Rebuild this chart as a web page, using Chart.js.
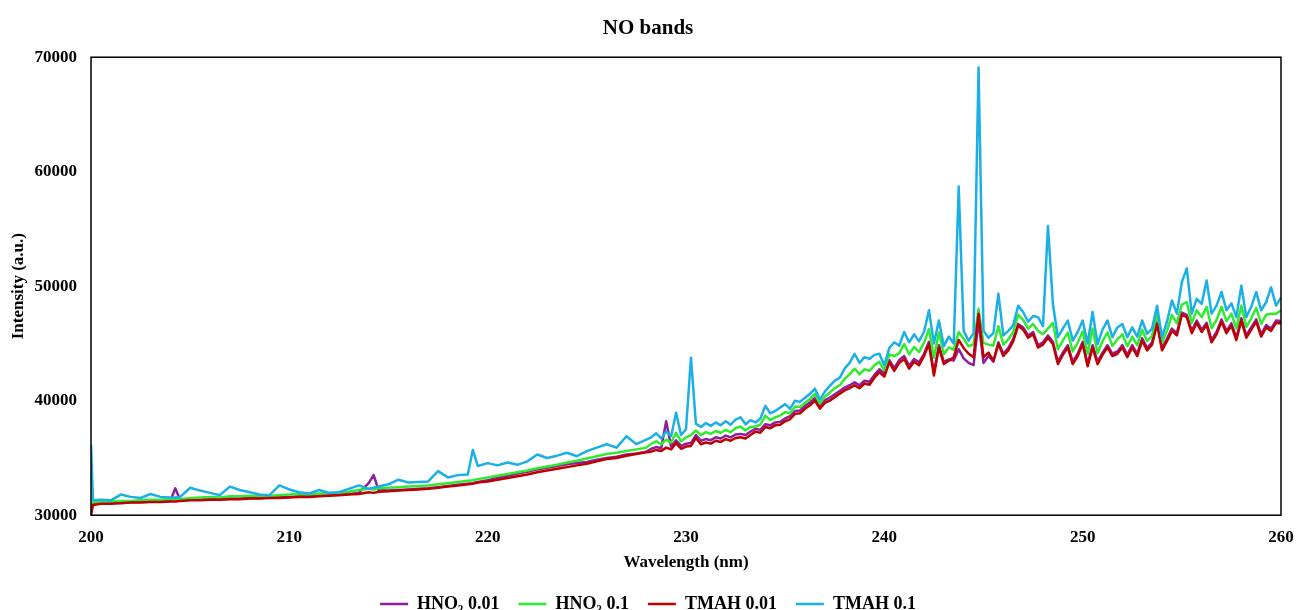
<!DOCTYPE html>
<html>
<head>
<meta charset="utf-8">
<script src="https://cdn.jsdelivr.net/npm/chart.js@4.4.1/dist/chart.umd.min.js"></script>
<style>
  html, body { margin: 0; padding: 0; background: #ffffff; }
  #wrap { width: 1296px; height: 610px; }
</style>
</head>
<body>
<div id="wrap"><canvas id="c" width="1296" height="610"></canvas></div>
<script>
// ---- DATA ----
const chartTitle = 'NO bands';
const xTitle = 'Wavelength (nm)';
const yTitle = 'Intensity (a.u.)';
const seriesNames = ['HNO\u2083 0.01', 'HNO\u2083 0.1', 'TMAH 0.01', 'TMAH 0.1'];
const xTicks = [200, 210, 220, 230, 240, 250, 260];
const yTicks = [30000, 40000, 50000, 60000, 70000];

const wavelength = [
  200, 200.1, 200.5, 201, 201.5, 202, 202.5, 203, 203.5, 204, 204.25, 204.5,
  205, 205.5, 206, 206.5, 207, 207.5, 208, 208.5, 209, 209.5,
  210, 210.5, 211, 211.5, 212, 212.5, 213, 213.5, 214, 214.25, 214.5,
  215, 215.5, 216, 216.5, 217, 217.5, 218, 218.5, 219, 219.25, 219.5,
  220, 220.5, 221, 221.5, 222, 222.5, 223, 223.5, 224, 224.5,
  225, 225.5, 226, 226.5, 227, 227.5, 228,
  228.25, 228.5, 228.75, 229, 229.25, 229.5, 229.75, 230,
  230.25, 230.5, 230.75, 231, 231.25, 231.5, 231.75, 232,
  232.25, 232.5, 232.75, 233, 233.25, 233.5, 233.75, 234,
  234.25, 234.5, 234.75, 235, 235.25, 235.5, 235.75, 236,
  236.25, 236.5, 236.75, 237, 237.25, 237.5, 237.75, 238,
  238.25, 238.5, 238.75, 239, 239.25, 239.5, 239.75, 240,
  240.25, 240.5, 240.75, 241, 241.25, 241.5, 241.75, 242,
  242.25, 242.5, 242.75, 243, 243.25, 243.5, 243.75, 244,
  244.25, 244.5, 244.75, 245, 245.25, 245.5, 245.75, 246,
  246.25, 246.5, 246.75, 247, 247.25, 247.5, 247.75, 248,
  248.25, 248.5, 248.75, 249, 249.25, 249.5, 249.75, 250,
  250.25, 250.5, 250.75, 251, 251.25, 251.5, 251.75, 252,
  252.25, 252.5, 252.75, 253, 253.25, 253.5, 253.75, 254,
  254.25, 254.5, 254.75, 255, 255.25, 255.5, 255.75, 256,
  256.25, 256.5, 256.75, 257, 257.25, 257.5, 257.75, 258,
  258.25, 258.5, 258.75, 259, 259.25, 259.5, 259.75, 260
];

// HNO3 0.01 (purple)
const hno3_001 = [
  30500, 31000, 31050, 31100, 31100, 31150, 31150, 31200, 31200, 31250, 32350, 31300,
  31350, 31350, 31400, 31400, 31450, 31450, 31500, 31500, 31550, 31600,
  31600, 31650, 31650, 31700, 31750, 31800, 31850, 31950, 32800, 33500, 32200,
  32150, 32200, 32250, 32300, 32350, 32450, 32550, 32650, 32750, 32800, 32900,
  33050, 33250, 33450, 33650, 33800, 34000, 34150, 34300, 34450, 34550,
  34650, 34850, 35000, 35100, 35300, 35400, 35550,
  35800, 35950, 35850, 38200, 36000, 36550, 36050, 36250,
  36300, 37000, 36500, 36650, 36550, 36800, 36700, 36950,
  36800, 37050, 37100, 37000, 37300, 37550, 37450, 37950,
  37850, 38100, 38150, 38450, 38650, 39100, 39150, 39550,
  39850, 40250, 39550, 40050, 40250, 40550, 40850, 41150,
  41350, 41600, 41350, 41750, 41650, 42250, 42750, 42350,
  43550, 42850, 43550, 43900, 43050, 43650, 43350, 44100,
  45150, 42450, 44850, 43400, 43600, 43500, 44500, 43700,
  43300, 43100, 47000, 43300, 43900, 43400, 45100, 44100,
  44600, 45400, 46700, 46400, 45700, 46000, 44850, 45100,
  45700, 45150, 43400, 44200, 44850, 43400, 44100, 45150,
  43200, 44850, 43400, 44200, 44850, 44100, 44300, 44850,
  44000, 44850, 44100, 45450, 44600, 45100, 46900, 44600,
  45400, 46300, 45900, 47700, 47500, 46100, 47000, 46200,
  46800, 45300, 46000, 47100, 46100, 46750, 45500, 47200,
  45700, 46400, 47100, 45800, 46600, 46300, 47000, 46950
];

// HNO3 0.1 (green)
const hno3_01 = [
  30700, 31100, 31150, 31200, 31250, 31250, 31300, 31350, 31350, 31400, 31400, 31400,
  31500, 31550, 31600, 31550, 31650, 31650, 31700, 31650, 31700, 31750,
  31800, 31850, 31800, 31900, 31900, 31950, 32050, 32200, 32300, 32250, 32350,
  32400, 32450, 32500, 32550, 32600, 32700, 32800, 32900, 33000, 33050, 33150,
  33300, 33450, 33600, 33750, 33900, 34100, 34250, 34400, 34600, 34750,
  34950, 35150, 35350, 35450, 35600, 35750, 35900,
  36250, 36450, 36200, 36600, 36350, 37200, 36450, 36800,
  37000, 37400, 37000, 37250, 37100, 37350, 37200, 37450,
  37250, 37600, 37750, 37400, 37700, 37750, 37900, 38700,
  38300, 38550, 38700, 39000, 38900, 39500, 39450, 39800,
  40150, 40600, 39750, 40350, 40700, 41100, 41350, 41900,
  42300, 42800, 42300, 42750, 42600, 43100, 43400, 42650,
  44050, 43900, 44150, 44950, 44050, 44700, 44250, 45050,
  46250, 43750, 45950, 44050, 44650, 44450, 46000, 45400,
  44750, 44950, 48000, 45050, 44900, 44800, 46500, 44900,
  45350, 46000, 47500, 47050, 46300, 46700, 46100, 45800,
  46300, 46800, 44500, 45250, 45950, 44300, 45050, 46050,
  44100, 46300, 44150, 45200, 45950, 44800, 45350, 45800,
  44750, 45600, 44850, 46200, 45200, 45650, 47550, 45050,
  46100, 47500, 46750, 48400, 48600, 46800, 47900, 47300,
  48200, 46350, 47050, 48200, 46950, 47600, 46300, 48300,
  46450, 47200, 48100, 46700, 47500, 47600, 47600, 47900
];

// TMAH 0.01 (dark red)
const tmah_001 = [
  30000, 30900, 31000, 31000, 31050, 31100, 31100, 31150, 31150, 31200, 31200, 31250,
  31300, 31300, 31350, 31350, 31400, 31400, 31450, 31450, 31500, 31500,
  31550, 31600, 31600, 31650, 31700, 31750, 31800, 31850, 32000, 31950, 32050,
  32100, 32150, 32200, 32250, 32300, 32400, 32500, 32600, 32700, 32750, 32850,
  32950, 33100, 33250, 33400, 33550, 33750, 33900, 34050, 34200, 34350,
  34500, 34700, 34900, 35000, 35200, 35350, 35500,
  35550, 35700, 35600, 35900, 35750, 36300, 35800, 36000,
  36050, 36750, 36200, 36350, 36250, 36500, 36400, 36650,
  36500, 36750, 36800, 36700, 37000, 37300, 37200, 37700,
  37600, 37850, 37900, 38200, 38400, 38850, 38900, 39300,
  39600, 40000, 39300, 39800, 40000, 40300, 40600, 40900,
  41100, 41350, 41100, 41500, 41400, 42000, 42500, 42100,
  43350, 42600, 43300, 43650, 42800, 43400, 43100, 43900,
  44950, 42200, 44650, 43200, 43500, 43800, 45300, 44600,
  44100, 43800, 47600, 43800, 44200, 43500, 44950, 43900,
  44400, 45200, 46550, 46200, 45500, 45800, 44650, 44900,
  45500, 44950, 43200, 44000, 44650, 43200, 43900, 44950,
  43000, 44650, 43200, 44000, 44650, 43900, 44100, 44650,
  43800, 44650, 43900, 45250, 44400, 44900, 46700, 44400,
  45200, 46100, 45700, 47500, 47300, 45900, 46800, 46000,
  46600, 45100, 45800, 46900, 45900, 46550, 45300, 47000,
  45500, 46200, 46900, 45600, 46400, 46100, 46800, 46750
];

// TMAH 0.1 (light blue)
const tmah_01 = [
  36200, 31300, 31350, 31300, 31800, 31600, 31500, 31850, 31600, 31550, 31550, 31600,
  32400, 32150, 31950, 31750, 32500, 32200, 32000, 31800, 31750, 32600,
  32250, 32000, 31900, 32200, 31950, 32000, 32300, 32600, 32300, 32400, 32500,
  32700, 33100, 32850, 32900, 32950, 33850, 33300, 33500, 33550, 35700, 34300,
  34550, 34350, 34600, 34400, 34700, 35300, 35000, 35200, 35450, 35150,
  35600, 35900, 36200, 35900, 36900, 36200, 36600,
  36800, 37150, 36700, 37300, 36900, 38950, 37000, 37500,
  43750, 38000, 37700, 38050, 37800, 38100, 37850, 38200,
  37900, 38350, 38550, 37950, 38300, 38100, 38450, 39550,
  38900, 39100, 39400, 39700, 39300, 40000, 39900, 40250,
  40600, 41050, 40100, 40800, 41300, 41750, 42000, 42800,
  43300, 44100, 43300, 43800, 43650, 44000, 44100, 43100,
  44600, 45100, 44800, 46000, 45100, 45800, 45200, 46000,
  47900, 45000, 47000, 44750, 45600, 45000, 58700, 46100,
  45250, 45900, 69100, 46100, 45500, 45900, 49350, 45700,
  46100, 46600, 48300, 47750, 46900, 47400, 47300, 46500,
  55250, 48450, 45550, 46300, 47000, 45250, 46000, 47000,
  45000, 47750, 44950, 46200, 47000, 45550, 46400, 46700,
  45550, 46400, 45600, 47000, 45850, 46300, 48300, 45550,
  46900, 48750, 47600, 50350, 51550, 47600, 48900, 48450,
  50500, 47600, 48300, 49500, 47900, 48500, 47300, 50050,
  47300, 48200, 49500, 47900, 48600, 49900, 48300, 49000
];

const seriesValues = [hno3_001, hno3_01, tmah_001, tmah_01];
const seriesColors = ['#8B1F9E', '#2EEB2E', '#C00000', '#1AAFE6'];
const drawOrder = [3, 2, 1, 0];

// ---- CHART ----
const FONT = "'Liberation Serif', 'Times New Roman', serif";

const frame = {
  id: 'frame',
  afterDatasetsDraw(chart) {
    const a = chart.chartArea, ctx = chart.ctx;
    ctx.save();
    ctx.strokeStyle = '#000';
    ctx.lineWidth = 1.5;
    ctx.strokeRect(a.left, a.top, a.right - a.left, a.bottom - a.top);
    ctx.restore();
  }
};

const datasets = seriesValues.map((vals, i) => ({
  label: seriesNames[i],
  data: wavelength.map((w, j) => ({ x: w, y: vals[j] })),
  borderColor: seriesColors[i],
  backgroundColor: seriesColors[i],
  borderWidth: 2.5,
  pointRadius: 0,
  tension: 0,
  borderJoinStyle: 'round',
  order: drawOrder[i]
}));

new Chart(document.getElementById('c'), {
  type: 'line',
  data: { datasets },
  plugins: [frame],
  options: {
    responsive: false,
    animation: false,
    devicePixelRatio: 1,
    layout: { padding: { left: 0, right: 0, top: 0, bottom: -13 } },
    plugins: {
      title: {
        display: true, text: chartTitle, color: '#000',
        font: { family: FONT, size: 21, weight: 'bold' },
        padding: { top: 16, bottom: 16 }
      },
      legend: {
        position: 'bottom', reverse: true,
        labels: {
          color: '#000', font: { family: FONT, size: 18, weight: 'bold' },
          usePointStyle: true, pointStyle: 'line', pointStyleWidth: 28,
          boxHeight: 17, padding: 19
        }
      },
      tooltip: { enabled: false }
    },
    scales: {
      x: {
        type: 'linear', min: 200, max: 260,
        grid: { display: false, drawTicks: false },
        border: { display: false },
        afterBuildTicks: s => { s.ticks = xTicks.map(v => ({ value: v })); },
        afterFit: s => { s.paddingRight = 15; s.paddingLeft = 0; },
        ticks: { color: '#000', font: { family: FONT, size: 17, weight: 'bold' }, padding: 12, maxRotation: 0, callback: v => String(v) },
        title: { display: true, text: xTitle, color: '#000', font: { family: FONT, size: 17, weight: 'bold' }, padding: { top: -7, bottom: 3 } }
      },
      y: {
        type: 'linear', min: 30000, max: 70000,
        grid: { display: false, drawTicks: false },
        border: { display: false },
        afterBuildTicks: s => { s.ticks = yTicks.map(v => ({ value: v })); },
        afterFit: s => { s.width = 91; },
        ticks: { color: '#000', font: { family: FONT, size: 17, weight: 'bold' }, padding: 14, callback: v => String(v) },
        title: { display: true, text: yTitle, color: '#000', font: { family: FONT, size: 17, weight: 'bold' }, padding: { top: 8, bottom: 0 } }
      }
    }
  }
});
</script>
</body>
</html>
